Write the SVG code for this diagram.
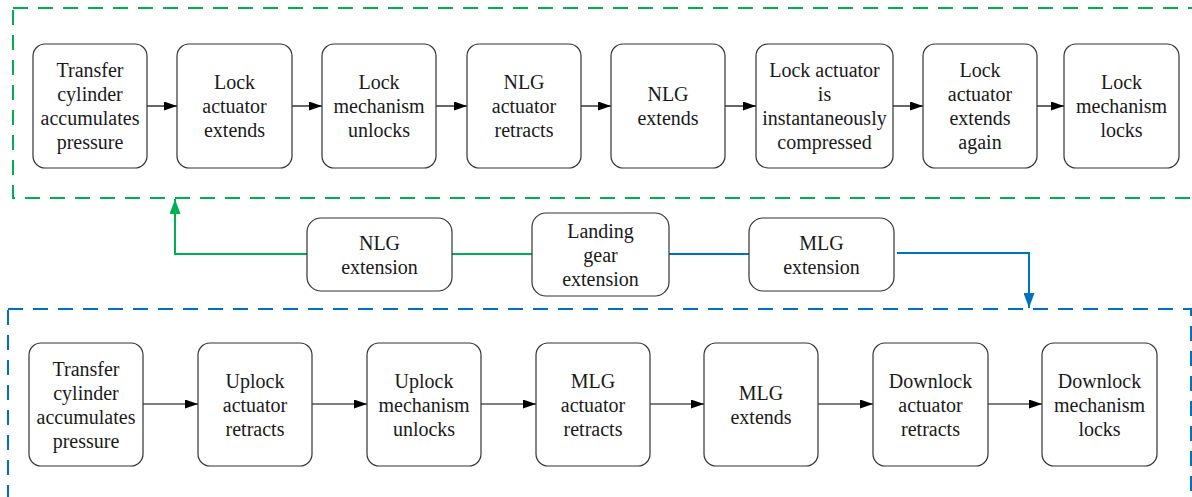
<svg xmlns="http://www.w3.org/2000/svg" width="1192" height="497" viewBox="0 0 1192 497">
<style>
.n{fill:#fff;stroke:#333;stroke-width:1.2}
.t{font-size:20px;fill:#1a1a1a;text-anchor:middle}
.c{fill:none;stroke:#000;stroke-width:1.2}
.g{fill:none;stroke:#00B050;stroke-width:2}
.b{fill:none;stroke:#0070C0;stroke-width:2}
.gd{fill:none;stroke:#00B050;stroke-width:2;stroke-dasharray:15 10}
.bd{fill:none;stroke:#0070C0;stroke-width:2;stroke-dasharray:15 10}
</style>
<defs>
<marker id="ak" markerUnits="userSpaceOnUse" markerWidth="13" markerHeight="9" refX="13" refY="4.5" orient="auto"><path d="M0,0 L13,4.5 L0,9 z" fill="#000"/></marker>
<marker id="ag" markerUnits="userSpaceOnUse" markerWidth="15" markerHeight="11" refX="15" refY="5.5" orient="auto"><path d="M0,0 L15,5.5 L0,11 z" fill="#00B050"/></marker>
<marker id="ab" markerUnits="userSpaceOnUse" markerWidth="15" markerHeight="11" refX="15" refY="5.5" orient="auto"><path d="M0,0 L15,5.5 L0,11 z" fill="#0070C0"/></marker>
</defs>
<g id="frames">
<rect class="gd" x="13" y="8" width="1181" height="190"/>
<rect class="bd" x="8" y="309" width="1183" height="200"/>
</g>
<g id="connectors">
<line class="c" x1="147" y1="106" x2="177" y2="106" marker-end="url(#ak)"/>
<line class="c" x1="292" y1="106" x2="322" y2="106" marker-end="url(#ak)"/>
<line class="c" x1="436" y1="106" x2="467" y2="106" marker-end="url(#ak)"/>
<line class="c" x1="581" y1="106" x2="611" y2="106" marker-end="url(#ak)"/>
<line class="c" x1="725" y1="106" x2="756" y2="106" marker-end="url(#ak)"/>
<line class="c" x1="893" y1="106" x2="923" y2="106" marker-end="url(#ak)"/>
<line class="c" x1="1037" y1="106" x2="1064" y2="106" marker-end="url(#ak)"/>
<line class="c" x1="143" y1="404" x2="198" y2="404" marker-end="url(#ak)"/>
<line class="c" x1="312" y1="404" x2="367" y2="404" marker-end="url(#ak)"/>
<line class="c" x1="481" y1="404" x2="536" y2="404" marker-end="url(#ak)"/>
<line class="c" x1="650" y1="404" x2="704" y2="404" marker-end="url(#ak)"/>
<line class="c" x1="818" y1="404" x2="873" y2="404" marker-end="url(#ak)"/>
<line class="c" x1="988" y1="404" x2="1042" y2="404" marker-end="url(#ak)"/>
<path class="g" d="M532,254 H452"/>
<path class="g" d="M307,254 H175 V199" marker-end="url(#ag)"/>
<path class="b" d="M669,254 H749"/>
<path class="b" d="M897,253 H1029 V308" marker-end="url(#ab)"/>
</g>
<g id="nodes" font-family="Liberation Serif, Times New Roman, serif">
<g id="t1"><rect class="n" x="33" y="44" width="114" height="124" rx="12"/><text class="t"><tspan x="90" y="77">Transfer</tspan><tspan x="90" y="101">cylinder</tspan><tspan x="90" y="125">accumulates</tspan><tspan x="90" y="149">pressure</tspan></text></g>
<g id="t2"><rect class="n" x="177" y="44" width="115" height="124" rx="12"/><text class="t"><tspan x="234.5" y="89">Lock</tspan><tspan x="234.5" y="113">actuator</tspan><tspan x="234.5" y="137">extends</tspan></text></g>
<g id="t3"><rect class="n" x="322" y="44" width="114" height="124" rx="12"/><text class="t"><tspan x="379" y="89">Lock</tspan><tspan x="379" y="113">mechanism</tspan><tspan x="379" y="137">unlocks</tspan></text></g>
<g id="t4"><rect class="n" x="467" y="44" width="114" height="124" rx="12"/><text class="t"><tspan x="524" y="89">NLG</tspan><tspan x="524" y="113">actuator</tspan><tspan x="524" y="137">retracts</tspan></text></g>
<g id="t5"><rect class="n" x="611" y="44" width="114" height="124" rx="12"/><text class="t"><tspan x="668" y="101">NLG</tspan><tspan x="668" y="125">extends</tspan></text></g>
<g id="t6"><rect class="n" x="756" y="44" width="137" height="124" rx="12"/><text class="t"><tspan x="824.5" y="77">Lock actuator</tspan><tspan x="824.5" y="101">is</tspan><tspan x="824.5" y="125">instantaneously</tspan><tspan x="824.5" y="149">compressed</tspan></text></g>
<g id="t7"><rect class="n" x="923" y="44" width="114" height="124" rx="12"/><text class="t"><tspan x="980" y="77">Lock</tspan><tspan x="980" y="101">actuator</tspan><tspan x="980" y="125">extends</tspan><tspan x="980" y="149">again</tspan></text></g>
<g id="t8"><rect class="n" x="1064" y="44" width="115" height="124" rx="12"/><text class="t"><tspan x="1121.5" y="89">Lock</tspan><tspan x="1121.5" y="113">mechanism</tspan><tspan x="1121.5" y="137">locks</tspan></text></g>
<g id="nlg"><rect class="n" x="307" y="218" width="145" height="73" rx="14"/><text class="t"><tspan x="379.5" y="250">NLG</tspan><tspan x="379.5" y="274">extension</tspan></text></g>
<g id="lg"><rect class="n" x="532" y="213" width="137" height="83" rx="14"/><text class="t"><tspan x="600.5" y="238">Landing</tspan><tspan x="600.5" y="262">gear</tspan><tspan x="600.5" y="286">extension</tspan></text></g>
<g id="mlg"><rect class="n" x="749" y="218" width="145" height="73" rx="14"/><text class="t"><tspan x="821.5" y="250">MLG</tspan><tspan x="821.5" y="274">extension</tspan></text></g>
<g id="b1"><rect class="n" x="29" y="343" width="114" height="123" rx="12"/><text class="t"><tspan x="86" y="376">Transfer</tspan><tspan x="86" y="400">cylinder</tspan><tspan x="86" y="424">accumulates</tspan><tspan x="86" y="448">pressure</tspan></text></g>
<g id="b2"><rect class="n" x="198" y="343" width="114" height="123" rx="12"/><text class="t"><tspan x="255" y="388">Uplock</tspan><tspan x="255" y="412">actuator</tspan><tspan x="255" y="436">retracts</tspan></text></g>
<g id="b3"><rect class="n" x="367" y="343" width="114" height="123" rx="12"/><text class="t"><tspan x="424" y="388">Uplock</tspan><tspan x="424" y="412">mechanism</tspan><tspan x="424" y="436">unlocks</tspan></text></g>
<g id="b4"><rect class="n" x="536" y="343" width="114" height="123" rx="12"/><text class="t"><tspan x="593" y="388">MLG</tspan><tspan x="593" y="412">actuator</tspan><tspan x="593" y="436">retracts</tspan></text></g>
<g id="b5"><rect class="n" x="704" y="343" width="114" height="123" rx="12"/><text class="t"><tspan x="761" y="400">MLG</tspan><tspan x="761" y="424">extends</tspan></text></g>
<g id="b6"><rect class="n" x="873" y="343" width="115" height="123" rx="12"/><text class="t"><tspan x="930.5" y="388">Downlock</tspan><tspan x="930.5" y="412">actuator</tspan><tspan x="930.5" y="436">retracts</tspan></text></g>
<g id="b7"><rect class="n" x="1042" y="343" width="115" height="123" rx="12"/><text class="t"><tspan x="1099.5" y="388">Downlock</tspan><tspan x="1099.5" y="412">mechanism</tspan><tspan x="1099.5" y="436">locks</tspan></text></g>
</g>
</svg>
